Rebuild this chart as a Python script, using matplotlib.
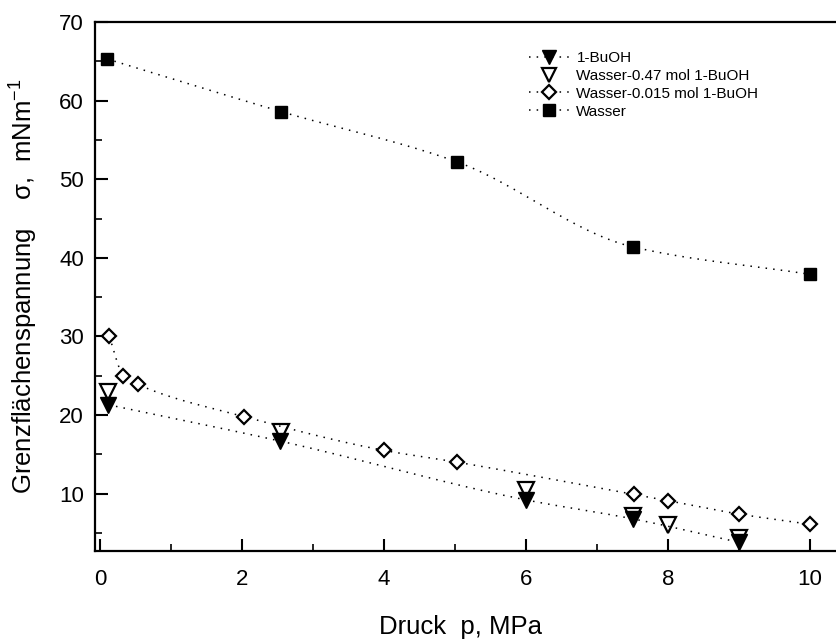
import numpy as np
import matplotlib
matplotlib.use("Agg")
import matplotlib.pyplot as plt
from matplotlib.ticker import MultipleLocator

plt.rcParams['font.family'] = ['Liberation Sans', 'DejaVu Sans']
plt.rcParams['mathtext.fontset'] = 'custom'
plt.rcParams['mathtext.rm'] = 'Liberation Sans'
plt.rcParams['mathtext.it'] = 'Liberation Sans'

druck_wasser = [0.1, 2.55, 5.03, 7.5, 10.0]
sigma_wasser = [65.3, 58.6, 52.2, 41.4, 37.9]

druck_0015 = [0.13, 0.33, 0.53, 2.03, 4.0, 5.03, 7.52, 8.0, 9.0, 10.0]
sigma_0015 = [30.0, 25.0, 23.9, 19.8, 15.5, 14.0, 9.9, 9.1, 7.4, 6.1]

druck_047 = [0.12, 2.55, 6.0, 7.5, 8.0, 9.0]
sigma_047 = [22.9, 17.9, 10.5, 7.1, 6.0, 4.4]

druck_buoh = [0.12, 2.53, 6.0, 7.5, 9.0]
sigma_buoh = [21.3, 16.7, 9.2, 6.8, 3.8]

labels = ['1-BuOH', 'Wasser-0.47 mol 1-BuOH', 'Wasser-0.015 mol 1-BuOH', 'Wasser']


# glatte Kurve durch die Messpunkte (monotone Hermite-Kurve, wie PCHIP)
def glatte_kurve(x, y, n=300):
    x = np.asarray(x, float)
    y = np.asarray(y, float)
    h = np.diff(x)
    d = np.diff(y) / h
    m = np.zeros_like(y)
    m[0], m[-1] = d[0], d[-1]
    for k in range(1, len(x) - 1):
        if d[k - 1] * d[k] > 0:
            w1 = 2 * h[k] + h[k - 1]
            w2 = h[k] + 2 * h[k - 1]
            m[k] = (w1 + w2) / (w1 / d[k - 1] + w2 / d[k])
    xs = np.linspace(x[0], x[-1], n)
    i = np.clip(np.searchsorted(x, xs) - 1, 0, len(x) - 2)
    t = (xs - x[i]) / h[i]
    h00 = 2 * t**3 - 3 * t**2 + 1
    h10 = t**3 - 2 * t**2 + t
    h01 = -2 * t**3 + 3 * t**2
    h11 = t**3 - t**2
    ys = h00 * y[i] + h10 * h[i] * m[i] + h01 * y[i + 1] + h11 * h[i] * m[i + 1]
    return xs, ys


fig = plt.figure(figsize=(8.37, 6.41), dpi=100)
ax = fig.add_axes([95 / 837, 1 - 551 / 641, 1 - 95 / 837, (551 - 22) / 641])

punkte = (0, (1, 4))
lw = 1.1

xs, ys = glatte_kurve(druck_buoh, sigma_buoh)
ax.plot(xs, ys, color='black', linestyle=punkte, linewidth=lw)
xs, ys = glatte_kurve(druck_0015, sigma_0015)
ax.plot(xs, ys, color='black', linestyle=punkte, linewidth=lw)
xs, ys = glatte_kurve(druck_wasser, sigma_wasser)
ax.plot(xs, ys, color='black', linestyle=punkte, linewidth=lw)

ax.plot(druck_buoh, sigma_buoh, linestyle='none', marker='v', markersize=11,
        color='black', zorder=3)
ax.plot(druck_047, sigma_047, linestyle='none', marker='v', markersize=11,
        markerfacecolor='none', markeredgecolor='black', markeredgewidth=1.6, zorder=4)
ax.plot(druck_0015, sigma_0015, linestyle='none', marker='D', markersize=7.5,
        markerfacecolor='white', markeredgecolor='black', markeredgewidth=1.6, zorder=3)
ax.plot(druck_wasser, sigma_wasser, linestyle='none', marker='s', markersize=9,
        color='black', zorder=3)

# Legende
h1, = ax.plot([], [], color='black', linestyle=punkte, linewidth=lw, marker='v', markersize=11)
h2, = ax.plot([], [], linestyle='none', marker='v', markersize=11,
              markerfacecolor='none', markeredgecolor='black', markeredgewidth=1.6)
h3, = ax.plot([], [], color='black', linestyle=punkte, linewidth=lw, marker='D', markersize=7.5,
              markerfacecolor='white', markeredgecolor='black', markeredgewidth=1.6)
h4, = ax.plot([], [], color='black', linestyle=punkte, linewidth=lw, marker='s', markersize=9)
ax.legend([h1, h2, h3, h4], labels, loc='upper left', bbox_to_anchor=(0.585, 0.945),
          frameon=False, fontsize=11, handlelength=2.6, handletextpad=0.5,
          labelspacing=0.25, borderpad=0, borderaxespad=0, markerscale=0.9)

ax.set_xlim(-0.07, 10.38)
ax.set_ylim(2.7, 70)
ax.xaxis.set_major_locator(MultipleLocator(2))
ax.xaxis.set_minor_locator(MultipleLocator(1))
ax.yaxis.set_major_locator(MultipleLocator(10))
ax.yaxis.set_minor_locator(MultipleLocator(5))
ax.tick_params(axis='both', which='major', direction='in', length=9, width=1.5, labelsize=16)
ax.tick_params(axis='both', which='minor', direction='in', length=5, width=1.2)
ax.tick_params(axis='x', which='major', pad=13)
ax.tick_params(axis='y', which='major', pad=8)

for s in ['left', 'bottom', 'top']:
    ax.spines[s].set_linewidth(1.6)
ax.spines['right'].set_visible(False)

ax.set_xlabel('Druck  p, MPa', fontsize=18.5)
ax.set_ylabel('Grenzflächenspannung    σ,  mNm$^{-1}$', fontsize=18.5)
ax.xaxis.set_label_coords(0.493, -0.121)
ax.yaxis.set_label_coords(-0.074, 0.5)

plt.savefig('out.png', dpi=100)
